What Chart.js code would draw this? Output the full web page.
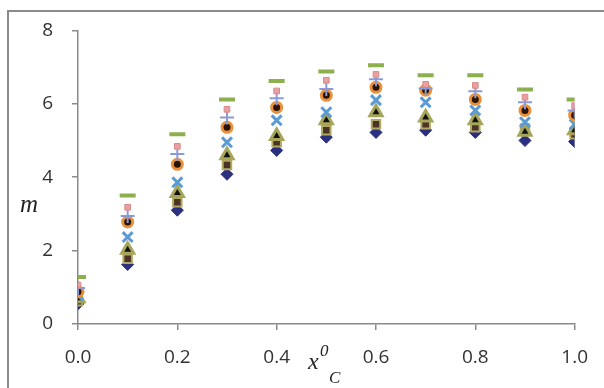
<!DOCTYPE html>
<html>
<head>
<meta charset="utf-8">
<script src="https://cdn.jsdelivr.net/npm/chart.js@4"></script>
<style>
  html, body { margin: 0; padding: 0; background: #fff; overflow: hidden; }
  #wrap { position: relative; width: 604px; height: 388px; overflow: hidden; }
  canvas { display: block; }
  #frame {
    position: absolute; left: 7px; top: 10px; width: 620px; height: 400px;
    border-left: 2px solid #8a8a8a; border-top: 2px solid #8a8a8a;
    pointer-events: none;
  }
</style>
</head>
<body>
<div id="wrap">
<canvas id="chart" width="604" height="388"></canvas>
<div id="frame"></div>
</div>
<script>
// x0_C values and m values for each series
const xValues = [0.0, 0.1, 0.2, 0.3, 0.4, 0.5, 0.6, 0.7, 0.8, 0.9, 1.0];

const diamondSeries  = [0.55, 1.62, 3.10, 4.08, 4.73, 5.09, 5.22, 5.28, 5.22, 5.00, 4.97];
const squareSeries   = [0.62, 1.78, 3.32, 4.33, 4.95, 5.28, 5.44, 5.44, 5.36, 5.33, 5.17];
const triangleSeries = [0.70, 2.02, 3.57, 4.60, 5.12, 5.55, 5.77, 5.63, 5.55, 5.24, 5.28];
const crossSeries    = [0.78, 2.37, 3.86, 4.95, 5.55, 5.77, 6.10, 6.04, 5.82, 5.50, 5.44];
const circleSeries   = [0.88, 2.78, 4.35, 5.36, 5.90, 6.23, 6.45, 6.37, 6.12, 5.82, 5.69];
const plusSeries     = [0.98, 2.94, 4.63, 5.63, 6.15, 6.40, 6.67, 6.42, 6.34, 6.04, 5.82];
const pinkSeries     = [1.06, 3.18, 4.84, 5.85, 6.35, 6.64, 6.80, 6.53, 6.50, 6.18, 5.95];
const dashSeries     = [1.28, 3.50, 5.17, 6.12, 6.62, 6.88, 7.05, 6.78, 6.78, 6.39, 6.12];

const xTicks = [0.0, 0.2, 0.4, 0.6, 0.8, 1.0];
const yTicks = [0, 2, 4, 6, 8];

function pts(values) {
    return values.map((v, i) => ({ x: xValues[i], y: v }));
}

const series = [
    { data: dashSeries, style: "line", radius: 8, bg: "#8DB04E", border: "#8DB04E", bw: 4 },
    { data: pinkSeries, style: "rect", radius: 4, bg: "#EBA0A0", border: "#D98A8A", bw: 1 },
    { data: plusSeries, style: "cross", radius: 7, bg: "#8A9AD8", border: "#8A9AD8", bw: 2 },
    { data: circleSeries, style: "circle", radius: 5, bg: "#2A1408", border: "#E8913A", bw: 3 },
    { data: crossSeries, style: "crossRot", radius: 7, bg: "#5B9BD5", border: "#5B9BD5", bw: 3 },
    { data: triangleSeries, style: "triangle", radius: 7, bg: "#111111", border: "#A7A55A", bw: 3 },
    { data: squareSeries, style: "rect", radius: 6, bg: "#4A3428", border: "#B3A862", bw: 2 },
    { data: diamondSeries, style: "rectRot", radius: 6, bg: "#2A2F80", border: "#2A2F80", bw: 1 }
];

// axis titles: italic m, and x with superscript 0 and subscript C
const axisTitles = {
    id: "axisTitles",
    afterDraw(chart) {
        const ctx = chart.ctx;
        ctx.save();
        ctx.fillStyle = "#222";
        ctx.textBaseline = "alphabetic";
        ctx.font = "italic 25px 'Liberation Serif'";
        ctx.fillText("m", 20, 212);

        ctx.font = "italic 24px 'Liberation Serif'";
        ctx.fillText("x", 308, 369);
        ctx.font = "italic 17px 'Liberation Serif'";
        ctx.fillText("0", 320, 356);
        ctx.fillText("C", 329, 383);
        ctx.restore();
    }
};

new Chart(document.getElementById("chart"), {
    type: "scatter",
    data: {
        datasets: series.map(s => ({
            data: pts(s.data),
            pointStyle: s.style,
            pointRadius: s.radius,
            pointBackgroundColor: s.bg,
            pointBorderColor: s.border,
            pointBorderWidth: s.bw
        }))
    },
    options: {
        responsive: false,
        animation: false,
        layout: { padding: { left: 0, right: 13, top: 25, bottom: 0 } },
        plugins: { legend: { display: false }, tooltip: { enabled: false } },
        scales: {
            x: {
                type: "linear",
                min: 0,
                max: 1,
                afterFit: s => { s.height = 64; },
                afterBuildTicks: s => { s.ticks = xTicks.map(v => ({ value: v })); },
                grid: { drawOnChartArea: false, drawTicks: true, tickLength: 6, color: "#8a8a8a", lineWidth: 1.5 },
                border: { color: "#8a8a8a", width: 1.5 },
                ticks: {
                    padding: 16,
                    color: "#333",
                    font: { family: "'Open Sans'", size: 19 },
                    callback: v => v.toFixed(1)
                }
            },
            y: {
                min: 0,
                max: 8,
                afterFit: s => { s.width = 78; },
                afterBuildTicks: s => { s.ticks = yTicks.map(v => ({ value: v })); },
                grid: { drawOnChartArea: false, drawTicks: true, tickLength: 6, color: "#8a8a8a", lineWidth: 1.5 },
                border: { color: "#8a8a8a", width: 1.5 },
                ticks: {
                    padding: 19,
                    color: "#333",
                    font: { family: "'Open Sans'", size: 19 },
                    callback: v => String(v)
                }
            }
        }
    },
    plugins: [axisTitles]
});
</script>
</body>
</html>
